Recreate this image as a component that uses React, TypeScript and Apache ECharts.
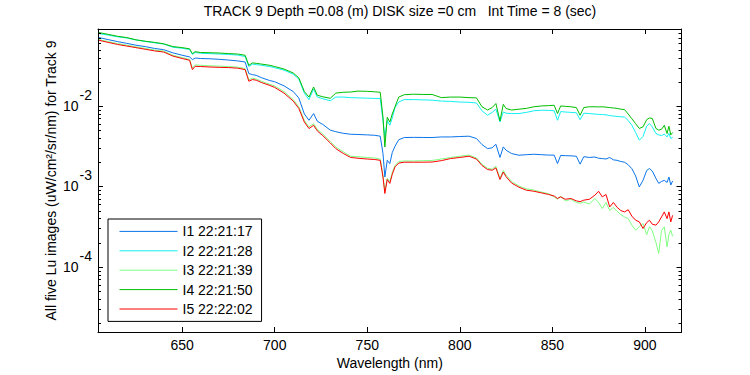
import React, { useEffect, useRef } from 'react';
import * as echarts from 'echarts';

const wavelength = [
  605, 610, 615, 620, 625, 630, 635, 640, 645, 650,
  654, 655.5, 657, 660, 665, 670, 675, 680, 684, 686,
  688, 690, 693, 697, 700, 705, 710, 713, 716, 718.5,
  721, 723, 726, 730, 733, 737, 741, 745, 750, 754,
  757, 758.5, 759.5, 760.8, 762.2, 763.5, 765, 767, 770, 775,
  780, 785, 790, 795, 800, 805, 809, 812, 815, 817.5,
  819.5, 821.7, 823.5, 825, 828, 832, 836, 840, 844, 848,
  851, 852.8, 854.5, 857, 860, 863, 865, 867, 870, 873,
  875, 877, 879, 881, 883, 885, 887, 889, 891, 893,
  895, 897, 899, 901, 902.5, 904, 906, 907.5, 909, 910.5,
  912, 913, 914, 915,
];

const luI1 = [
  0.0708, 0.0668, 0.0631, 0.0600, 0.0569, 0.0547, 0.0519, 0.0501, 0.0457, 0.0427,
  0.0407, 0.0377, 0.0394, 0.0389, 0.0386, 0.0380, 0.0372, 0.0363, 0.0352, 0.0253,
  0.0245, 0.0240, 0.0224, 0.0208, 0.0200, 0.0178, 0.0151, 0.0126, 0.00794, 0.00664,
  0.00805, 0.00646, 0.00589, 0.00501, 0.00479, 0.00457, 0.00445, 0.00442, 0.00437, 0.00432,
  0.00421, 0.00257, 0.00131, 0.00211, 0.00192, 0.00263, 0.00316, 0.00380, 0.00405, 0.00407,
  0.00406, 0.00405, 0.00412, 0.00412, 0.00417, 0.00421, 0.00394, 0.00331, 0.00295, 0.00302,
  0.00334, 0.00229, 0.00310, 0.00282, 0.00256, 0.00244, 0.00248, 0.00251, 0.00248, 0.00245,
  0.00245, 0.00192, 0.00243, 0.00241, 0.00240, 0.00237, 0.00189, 0.00234, 0.00229, 0.00232,
  0.00224, 0.00222, 0.00219, 0.00229, 0.00214, 0.00211, 0.00204, 0.00200, 0.00186, 0.00166,
  0.00135, 0.000986, 0.00119, 0.00158, 0.00167, 0.00155, 0.00126, 0.00109, 0.00115, 0.00119,
  0.00112, 0.00131, 0.00104, 0.00117,
];

const luI2 = [
  0.0794, 0.0759, 0.0724, 0.0700, 0.0661, 0.0634, 0.0610, 0.0589, 0.0537, 0.0521,
  0.0504, 0.0437, 0.0462, 0.0452, 0.0447, 0.0442, 0.0437, 0.0429, 0.0412, 0.0309,
  0.0331, 0.0327, 0.0320, 0.0310, 0.0299, 0.0279, 0.0248, 0.0216, 0.01445, 0.0120,
  0.0162, 0.0129, 0.0123, 0.0116, 0.0129, 0.0129, 0.0127, 0.0126, 0.0125, 0.0124,
  0.0124, 0.00661, 0.00412, 0.00661, 0.00575, 0.00708, 0.00955, 0.0112, 0.0120, 0.0120,
  0.0119, 0.0118, 0.0115, 0.0114, 0.0112, 0.0111, 0.0109, 0.00871, 0.00766, 0.00832,
  0.00912, 0.00631, 0.00841, 0.00813, 0.00804, 0.00805, 0.00832, 0.00871, 0.00885, 0.00881,
  0.00871, 0.00664, 0.00851, 0.00841, 0.00832, 0.00822, 0.00676, 0.00813, 0.00804, 0.00794,
  0.00785, 0.00782, 0.00776, 0.00759, 0.00750, 0.00741, 0.00733, 0.00729, 0.00661, 0.00575,
  0.00468, 0.00375, 0.00417, 0.00562, 0.00604, 0.00550, 0.00454, 0.00437, 0.00427, 0.00447,
  0.00412, 0.00457, 0.00394, 0.00407,
];

const luI3 = [
  0.0668, 0.0631, 0.0596, 0.0569, 0.0543, 0.0519, 0.0495, 0.0481, 0.0427, 0.0398,
  0.0380, 0.0295, 0.0324, 0.0320, 0.0316, 0.0313, 0.0309, 0.0304, 0.0292, 0.0211,
  0.0221, 0.0216, 0.0202, 0.0187, 0.0177, 0.0151, 0.0120, 0.00977, 0.00661, 0.00550,
  0.00603, 0.00513, 0.00447, 0.00363, 0.00309, 0.00269, 0.00237, 0.00234, 0.00229, 0.00226,
  0.00219, 0.00135, 0.000871, 0.00126, 0.00115, 0.00148, 0.00182, 0.00204, 0.00207, 0.00207,
  0.00209, 0.00210, 0.00219, 0.00229, 0.00237, 0.00245, 0.00226, 0.00188, 0.00168, 0.00164,
  0.00178, 0.00126, 0.00158, 0.00138, 0.00115, 0.00101, 0.000933, 0.000902, 0.000851, 0.000813,
  0.000741, 0.000692, 0.000759, 0.000661, 0.000692, 0.000631, 0.000617, 0.000641, 0.000603, 0.000708,
  0.000631, 0.000531, 0.000631, 0.000501, 0.000550, 0.000490, 0.000447, 0.000417, 0.000398, 0.000331,
  0.000286, 0.000316, 0.000346, 0.000251, 0.000316, 0.000282, 0.000200, 0.000147, 0.000282, 0.000314,
  0.000177, 0.000251, 0.000286, 0.000240,
];

const luI4 = [
  0.0817, 0.0776, 0.0735, 0.0708, 0.0664, 0.0638, 0.0617, 0.0592, 0.0547, 0.0531,
  0.0513, 0.0447, 0.0473, 0.0462, 0.0459, 0.0455, 0.0448, 0.0442, 0.0427, 0.0320,
  0.0343, 0.0339, 0.0331, 0.0321, 0.0309, 0.0288, 0.0257, 0.0224, 0.0151, 0.0129,
  0.0172, 0.0136, 0.0130, 0.01245, 0.01445, 0.0148, 0.0149, 0.0153, 0.0152, 0.0150,
  0.0148, 0.00724, 0.00309, 0.00724, 0.00631, 0.00794, 0.00977, 0.0129, 0.0138, 0.0140,
  0.0139, 0.0139, 0.0127, 0.0129, 0.0129, 0.0127, 0.0126, 0.00977, 0.00891, 0.00955,
  0.01072, 0.00652, 0.01047, 0.00929, 0.00891, 0.00912, 0.00933, 0.00977, 0.0100, 0.0101,
  0.0102, 0.00805, 0.0100, 0.00989, 0.00977, 0.00955, 0.00766, 0.00955, 0.00977, 0.00977,
  0.00973, 0.00977, 0.00966, 0.00955, 0.00944, 0.00933, 0.00912, 0.00902, 0.00794, 0.00692,
  0.00603, 0.00525, 0.00550, 0.00676, 0.00710, 0.00700, 0.00525, 0.00501, 0.00513, 0.00575,
  0.00454, 0.00560, 0.00437, 0.00468,
];

const luI5 = [
  0.0655, 0.0617, 0.0582, 0.0556, 0.0531, 0.0507, 0.0484, 0.0468, 0.0417, 0.0389,
  0.0370, 0.0283, 0.0311, 0.0309, 0.0305, 0.0302, 0.0300, 0.0295, 0.0283, 0.0203,
  0.0213, 0.0209, 0.0195, 0.0181, 0.0170, 0.01445, 0.0115, 0.00933, 0.00631, 0.00524,
  0.00575, 0.00490, 0.00427, 0.00347, 0.00295, 0.00257, 0.00229, 0.00224, 0.00219, 0.00216,
  0.00211, 0.00131, 0.000817, 0.00122, 0.00109, 0.00141, 0.00175, 0.00195, 0.00200, 0.00200,
  0.00200, 0.00201, 0.00209, 0.00222, 0.00229, 0.00237, 0.00219, 0.00182, 0.00162, 0.00159,
  0.00170, 0.00122, 0.00151, 0.00132, 0.00110, 0.000977, 0.000897, 0.000871, 0.000832, 0.000794,
  0.000759, 0.000708, 0.000741, 0.000692, 0.000708, 0.000661, 0.000646, 0.000675, 0.000692, 0.000778,
  0.000871, 0.000741, 0.000794, 0.000556, 0.000631, 0.000550, 0.000501, 0.000482, 0.000513, 0.000427,
  0.000380, 0.000363, 0.000300, 0.000355, 0.000380, 0.000339, 0.000330, 0.000363, 0.000417, 0.000482,
  0.000398, 0.000482, 0.000362, 0.000437,
];

const seriesNames = ['I1 22:21:17', 'I2 22:21:28', 'I3 22:21:39', 'I4 22:21:50', 'I5 22:22:02'];
const seriesValues = [luI1, luI2, luI3, luI4, luI5];
const seriesColors = ['#0a74ea', '#12f0f0', '#80ff80', '#00be00', '#ff0000'];

const yTickLabels: Record<string, string> = { '-4': '-4', '-3': '-3', '-2': '-2' };

const X_MIN = 604.5;
const X_MAX = 919.8;
const Y_MIN = 1.55e-5;
const Y_MAX = 0.0905;

const FONT = '"Liberation Sans", Arial, Helvetica, sans-serif';

export default function App() {
  const ref = useRef<HTMLDivElement>(null);

  useEffect(() => {
    if (!ref.current) return;
    const chart = echarts.init(ref.current, null, { renderer: 'svg' });

    const minorTicks: number[][] = [];
    for (let e = -5; e <= -1; e++) {
      for (let m = 2; m <= 9; m++) {
        const v = m * Math.pow(10, e);
        if (v > Y_MIN && v < Y_MAX) minorTicks.push([X_MIN, v]);
      }
    }

    const lineSeries = seriesNames.map((name, i) => ({
      name,
      type: 'line',
      xAxisIndex: 0,
      yAxisIndex: 0,
      data: wavelength.map((w, j) => [w, seriesValues[i][j]]),
      symbol: 'none',
      showSymbol: false,
      lineStyle: { color: seriesColors[i], width: 1 },
      itemStyle: { color: seriesColors[i] },
      color: seriesColors[i],
      smooth: false,
      silent: true,
      z: 2 + i,
    }));

    const axisLineStyle = { show: true, lineStyle: { color: '#000', width: 1 } };

    const option: any = {
      animation: false,
      backgroundColor: '#ffffff',
      textStyle: { fontFamily: FONT, color: '#000' },
      title: {
        text: 'TRACK 9 Depth =0.08 (m) DISK size =0 cm   Int Time = 8 (sec)',
        left: 400,
        top: 4,
        padding: 0,
        textAlign: 'center',
        textStyle: { fontSize: 14, fontWeight: 'normal', color: '#000', fontFamily: FONT },
      },
      legend: {
        data: seriesNames,
        orient: 'vertical',
        left: 108,
        top: 219,
        itemWidth: 58,
        itemHeight: 14,
        itemGap: 5.4,
        padding: [5.4, 9, 5.4, 11],
        backgroundColor: '#ffffff',
        borderColor: '#000000',
        borderWidth: 1,
        borderRadius: 0,
        itemStyle: { opacity: 0 },
        lineStyle: { width: 1 },
        textStyle: { fontSize: 14, color: '#000', fontFamily: FONT },
        selectedMode: false,
      },
      grid: {
        left: 98,
        right: 68.5,
        top: 29,
        bottom: 43,
        containLabel: false,
        outerBoundsMode: 'none',
      },
      xAxis: [
        {
          type: 'value',
          min: X_MIN,
          max: X_MAX,
          splitNumber: 5,
          position: 'bottom',
          name: 'Wavelength (nm)',
          nameLocation: 'middle',
          nameGap: 24,
          nameMoveOverlap: false,
          nameTextStyle: { fontSize: 14, color: '#000', fontFamily: FONT },
          axisLine: axisLineStyle,
          axisTick: { show: true, inside: true, length: 5, lineStyle: { color: '#000' } },
          axisLabel: {
            show: true,
            showMinLabel: false,
            showMaxLabel: false,
            margin: 6,
            fontSize: 14,
            lineHeight: 14,
            color: '#000',
            fontFamily: FONT,
          },
          splitLine: { show: false },
        },
        {
          type: 'value',
          min: X_MIN,
          max: X_MAX,
          splitNumber: 5,
          position: 'top',
          axisLine: axisLineStyle,
          axisTick: { show: true, inside: true, length: 5, lineStyle: { color: '#000' } },
          axisLabel: { show: false },
          splitLine: { show: false },
        },
      ],
      yAxis: [
        {
          type: 'log',
          logBase: 10,
          min: Y_MIN,
          max: Y_MAX,
          position: 'left',
          name: 'All five Lu images (uW/cm\u00B2/sr/nm) for Track 9',
          nameLocation: 'middle',
          nameGap: 40,
          nameMoveOverlap: false,
          nameTextStyle: { fontSize: 14, color: '#000', fontFamily: FONT },
          axisLine: axisLineStyle,
          axisTick: { show: true, inside: true, length: 5, lineStyle: { color: '#000' } },
          axisLabel: {
            showMinLabel: false,
            showMaxLabel: false,
            margin: 6,
            color: '#000',
            fontFamily: FONT,
            formatter: (v: number) => {
              const e = String(Math.round(Math.log10(v)));
              const lab = yTickLabels[e];
              if (!lab) return '';
              return '{b|10}{e|' + lab + '}';
            },
            rich: {
              b: { fontSize: 14, lineHeight: 36, fontFamily: FONT, color: '#000' },
              e: { fontSize: 14, lineHeight: 14, verticalAlign: 'top', padding: [0, 0, 0, 1], fontFamily: FONT, color: '#000' },
            },
          },
          splitLine: { show: false },
        },
        {
          type: 'log',
          logBase: 10,
          min: Y_MIN,
          max: Y_MAX,
          position: 'right',
          axisLine: axisLineStyle,
          axisTick: { show: true, inside: true, length: 5, lineStyle: { color: '#000' } },
          axisLabel: { show: false },
          splitLine: { show: false },
        },
      ],
      series: [
        ...lineSeries,
        {
          name: 'minor-ticks',
          type: 'custom',
          xAxisIndex: 0,
          yAxisIndex: 0,
          silent: true,
          clip: false,
          z: 10,
          data: minorTicks,
          encode: { x: 0, y: 1 },
          renderItem: (params: any, api: any) => {
            const v = api.value(1);
            const pt = api.coord([X_MIN, v]);
            const cs = params.coordSys;
            const y = Math.round(pt[1]) + 0.5;
            return {
              type: 'group',
              children: [
                {
                  type: 'line',
                  shape: { x1: cs.x, y1: y, x2: cs.x + 3, y2: y },
                  style: { stroke: '#000', lineWidth: 1 },
                },
                {
                  type: 'line',
                  shape: { x1: cs.x + cs.width - 3, y1: y, x2: cs.x + cs.width, y2: y },
                  style: { stroke: '#000', lineWidth: 1 },
                },
              ],
            };
          },
        },
      ],
    };

    chart.setOption(option);
    return () => chart.dispose();
  }, []);

  return (
    <div
      ref={ref}
      style={{ position: 'fixed', left: 0, top: 0, width: 750, height: 375, background: '#fff' }}
    />
  );
}
